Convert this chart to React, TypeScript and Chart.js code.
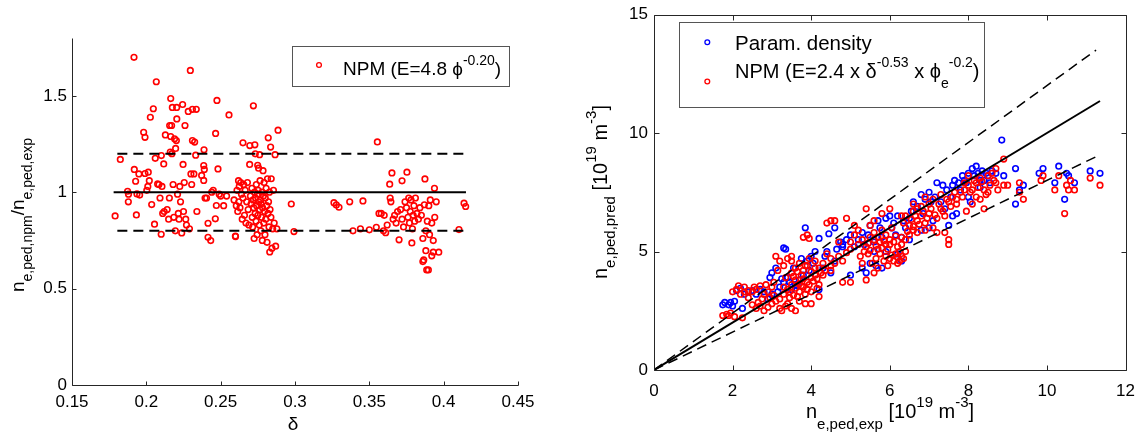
import React, { useEffect, useRef } from 'react';
import { Chart, registerables } from 'chart.js';

Chart.register(...registerables);

const FONT = '"Liberation Sans", Arial, Helvetica, sans-serif';

// ---------------- Left panel data: ratio n_npm / n_exp vs delta ----------------
const leftXTicks = [0.15, 0.2, 0.25, 0.3, 0.35, 0.4, 0.45];
const leftYTicks = [0, 0.5, 1, 1.5];
const leftXRange = [0.15, 0.45];
const leftYRange = [0, 1.8];
const leftFitLevel = 1;
const leftBandLevels = [1.2, 0.8];
const leftSolidSpan = [0.178, 0.415];
const leftDashSpan = [0.1805, 0.415];

const leftPoints: [number, number][] = [
  [0.179, 0.877], [0.1825, 1.17], [0.1874, 1.005], [0.1879, 0.95], [0.188, 0.99], [0.1917, 1.70],
  [0.1919, 1.118], [0.1928, 1.057], [0.1933, 0.882], [0.195, 1.095], [0.1937, 0.991], [0.1955, 0.985],
  [0.1982, 1.311], [0.1991, 1.285], [0.1991, 1.097], [0.2013, 1.104], [0.2003, 1.01], [0.201, 1.03],
  [0.202, 1.06], [0.2027, 1.389], [0.2036, 0.936], [0.2047, 1.433], [0.2055, 0.834], [0.206, 1.176],
  [0.2067, 1.573], [0.2076, 1.043], [0.2085, 1.04], [0.2092, 0.97], [0.21, 0.782], [0.2101, 1.19],
  [0.2105, 1.03], [0.211, 0.89], [0.2117, 1.147], [0.212, 0.9], [0.2128, 1.297], [0.214, 0.91],
  [0.215, 0.86], [0.2155, 0.97], [0.2157, 1.346], [0.2161, 1.208], [0.2164, 1.486], [0.2164, 1.289],
  [0.217, 1.346], [0.2172, 1.2], [0.2175, 1.44], [0.218, 1.04], [0.2185, 0.87], [0.219, 1.277],
  [0.2195, 0.8], [0.2197, 1.227], [0.2202, 1.268], [0.2204, 1.44], [0.2205, 1.38], [0.221, 0.99],
  [0.2215, 0.89], [0.222, 0.86], [0.2225, 1.03], [0.223, 0.95], [0.2238, 0.789], [0.2244, 1.455],
  [0.2247, 1.144], [0.225, 0.9], [0.2255, 1.05], [0.226, 1.346], [0.2265, 0.86], [0.227, 0.83],
  [0.2282, 1.419], [0.229, 0.81], [0.2296, 1.632], [0.23, 1.095], [0.2305, 1.04], [0.231, 1.43],
  [0.231, 1.268], [0.232, 1.095], [0.2325, 1.26], [0.2332, 1.192], [0.2336, 1.43], [0.234, 0.9],
  [0.2372, 1.087], [0.2386, 1.138], [0.2386, 1.061], [0.2388, 1.22], [0.239, 1.118], [0.2395, 0.97],
  [0.2405, 0.97], [0.2415, 0.839], [0.2415, 0.766], [0.2433, 0.749], [0.244, 1.0], [0.245, 1.01],
  [0.2464, 0.862], [0.2466, 1.305], [0.2471, 0.931], [0.2475, 1.476], [0.2482, 1.121], [0.249, 0.99],
  [0.25, 0.98], [0.252, 0.93], [0.254, 0.98], [0.2556, 1.401],
  [0.259, 0.96], [0.2599, 0.773], [0.26, 0.77], [0.2605, 0.93], [0.261, 1.01], [0.2615, 0.9],
  [0.262, 1.06], [0.2622, 0.95], [0.2625, 1.03], [0.263, 0.92], [0.2635, 1.05], [0.264, 0.99],
  [0.2645, 0.86], [0.265, 1.256], [0.265, 0.97], [0.2655, 1.04], [0.266, 0.88], [0.2665, 1.01],
  [0.267, 0.84], [0.2675, 0.95], [0.268, 1.05], [0.2685, 0.91], [0.269, 0.83], [0.2695, 1.144],
  [0.2696, 1.242], [0.27, 0.98], [0.2705, 0.94], [0.271, 1.02], [0.2712, 0.87], [0.2715, 0.82],
  [0.2718, 0.96], [0.272, 1.448], [0.2722, 0.92], [0.2725, 0.76], [0.2728, 1.0], [0.273, 1.246],
  [0.2732, 0.89], [0.2733, 1.199], [0.2735, 0.97], [0.2738, 0.85], [0.274, 1.04], [0.2742, 0.93],
  [0.2745, 0.78], [0.2748, 0.99], [0.2749, 1.14], [0.275, 0.88], [0.2752, 1.01], [0.2755, 1.125],
  [0.2757, 0.95], [0.276, 0.83], [0.2762, 1.195], [0.2763, 0.91], [0.2765, 1.06], [0.2768, 0.96],
  [0.277, 0.8], [0.2772, 0.94], [0.2775, 0.87], [0.2778, 1.0], [0.278, 0.75], [0.2782, 0.92],
  [0.2785, 1.112], [0.2787, 0.98], [0.279, 0.84], [0.2792, 1.05], [0.2795, 0.9], [0.2798, 0.78],
  [0.28, 0.97], [0.2803, 0.86], [0.2806, 1.02], [0.281, 0.93], [0.2812, 0.74], [0.2815, 1.07],
  [0.2818, 0.89], [0.282, 1.282], [0.2822, 0.95], [0.2825, 0.82], [0.2828, 1.0], [0.283, 0.69],
  [0.2832, 0.91], [0.2836, 1.234], [0.2838, 0.87], [0.284, 1.07], [0.2845, 0.71], [0.285, 0.81],
  [0.2855, 1.01], [0.286, 0.84], [0.2866, 1.195], [0.287, 0.72], [0.2878, 0.81], [0.2886, 1.322],
  [0.2975, 0.939], [0.2993, 0.796],
  [0.3262, 0.946], [0.3278, 0.934], [0.3296, 0.922], [0.3368, 0.95], [0.339, 0.8], [0.3457, 0.955],
  [0.344, 0.81], [0.35, 0.805], [0.3554, 1.261], [0.3547, 0.818],
  [0.3565, 0.89], [0.358, 0.89], [0.36, 0.88], [0.3595, 0.8], [0.361, 0.79], [0.362, 0.83],
  [0.3637, 1.042], [0.364, 0.97], [0.3645, 0.95], [0.3652, 1.1], [0.366, 0.86], [0.367, 0.88],
  [0.368, 0.84], [0.369, 0.9], [0.37, 0.753], [0.371, 0.91], [0.372, 1.059], [0.372, 0.86],
  [0.373, 0.82], [0.374, 0.95], [0.3753, 1.104], [0.375, 0.92], [0.376, 0.87], [0.3765, 0.97],
  [0.377, 0.84], [0.3775, 0.9], [0.378, 0.96], [0.3786, 0.737], [0.379, 0.81], [0.3795, 0.88],
  [0.38, 0.93], [0.3805, 0.85], [0.381, 0.97], [0.382, 0.89], [0.383, 0.86], [0.384, 0.92],
  [0.385, 0.88], [0.386, 0.76], [0.3866, 0.649], [0.386, 0.64], [0.387, 0.935], [0.3874, 1.069],
  [0.388, 0.697], [0.388, 0.8], [0.3886, 0.597], [0.3897, 0.597], [0.389, 0.85], [0.39, 0.93],
  [0.391, 0.96], [0.392, 0.67], [0.393, 0.749], [0.393, 0.689], [0.3938, 1.02], [0.394, 0.87],
  [0.3967, 0.689], [0.395, 0.95], [0.3905, 0.78], [0.392, 0.84],
  [0.4103, 0.806], [0.4137, 0.943], [0.4148, 0.926],
];

// ---------------- Right panel data: predicted vs experimental density ----------------
const rightXTicks = [0, 2, 4, 6, 8, 10, 12];
const rightYTicks = [0, 5, 10, 15];
const rightXRange = [0, 12];
const rightYRange = [0, 15];
const refSlopes = [1, 1.2, 0.8];
const refEnds = [11.35, 11.25, 11.25];

const paramDensity: [number, number][] = [
  [1.75, 2.75], [1.8, 2.85], [1.9, 2.75], [1.95, 2.85], [2.0, 2.7], [2.05, 2.9], [2.25, 2.6],
  [2.1, 3.35], [2.2, 3.45], [2.4, 3.3], [2.6, 3.2], [2.7, 3.4], [2.9, 3.0], [3.0, 3.2], [2.95, 3.9],
  [3.0, 4.1], [3.3, 5.15], [3.35, 5.1], [3.1, 4.3], [3.2, 3.5], [3.3, 3.7],
  [3.5, 3.4], [3.6, 3.6], [3.7, 3.8], [3.8, 4.0], [3.9, 4.6], [3.85, 6.0], [4.0, 4.8], [4.1, 5.0],
  [4.2, 5.55], [4.2, 3.4], [4.3, 4.3], [4.4, 5.0], [4.45, 5.75], [4.6, 6.0], [4.5, 4.1], [4.6, 4.6],
  [4.8, 5.3], [4.8, 5.2], [4.9, 5.5], [5.0, 5.7], [5.0, 4.0], [5.3, 4.3], [5.4, 4.1], [5.5, 4.5],
  [5.6, 5.0], [5.2, 5.5], [5.3, 5.8], [5.5, 6.1], [5.7, 6.3], [5.9, 6.4], [6.0, 6.5], [6.1, 6.2],
  [6.2, 6.5], [5.8, 5.6], [5.9, 5.0], [6.3, 5.6], [6.4, 6.0], [6.5, 6.4], [6.6, 7.1], [6.8, 7.4],
  [6.9, 7.2], [7.0, 7.5], [7.2, 7.9], [7.35, 7.8], [7.4, 6.8], [7.5, 6.1], [7.6, 6.5], [7.7, 6.6],
  [7.0, 6.0], [6.8, 5.9], [7.1, 6.3], [7.6, 7.8], [7.75, 7.9], [7.9, 8.0], [8.0, 8.3], [8.1, 8.5],
  [8.2, 8.6], [8.25, 8.3], [8.35, 8.4], [8.5, 8.2], [8.0, 7.3], [8.05, 7.1], [8.4, 8.0], [8.6, 8.4],
  [8.85, 9.7], [8.7, 8.3], [8.9, 8.2], [9.2, 8.5], [9.2, 7.0], [9.3, 7.6], [9.4, 7.8], [9.8, 8.3],
  [9.9, 8.5], [10.2, 7.9], [10.3, 8.6], [10.45, 7.2], [10.5, 8.3], [10.55, 8.2], [10.7, 7.9],
  [11.1, 8.4], [11.35, 8.3], [7.8, 7.6], [8.3, 7.7],
  [3.4, 3.9], [3.55, 4.3], [3.65, 3.55], [3.75, 4.7], [3.95, 4.2], [4.05, 4.5], [4.35, 4.8],
  [4.65, 5.1], [4.75, 5.4], [5.1, 5.2], [5.35, 5.3], [5.45, 5.7], [5.6, 5.4], [5.75, 6.0],
  [6.05, 6.0], [6.15, 5.7], [6.35, 6.3], [6.55, 6.7], [6.7, 6.9], [6.85, 6.6], [7.05, 7.1],
  [7.15, 7.3], [7.3, 7.1], [7.45, 7.6], [7.55, 7.3], [7.65, 8.0], [7.85, 8.2], [7.95, 7.9],
  [8.15, 8.2], [8.3, 8.0], [8.45, 8.3], [8.55, 7.9], [2.3, 3.2], [2.5, 3.35], [2.8, 3.3],
  [3.15, 3.3], [3.25, 3.85], [3.45, 3.7], [5.65, 4.4], [5.8, 4.3], [6.2, 4.9], [6.5, 5.5], [6.3, 4.6],
];

const npmDensity: [number, number][] = [
  [1.75, 2.3], [1.85, 2.35], [1.9, 2.3], [1.95, 2.4], [2.05, 2.25], [2.25, 2.2],
  [2.0, 3.3], [2.1, 3.4], [2.2, 3.2], [2.3, 3.3], [2.4, 3.35], [2.5, 3.3], [2.55, 3.5], [2.6, 3.4],
  [2.7, 3.55], [2.8, 3.2], [2.85, 3.6], [2.9, 3.3], [3.0, 3.5], [3.05, 3.7],
  [2.6, 2.6], [2.7, 2.7], [2.8, 2.5], [2.9, 2.65], [3.0, 2.8], [3.1, 2.9], [3.2, 2.6], [3.25, 2.5],
  [3.35, 2.7], [3.4, 2.8], [3.5, 2.6], [3.6, 2.5], [3.7, 2.9], [3.85, 2.8], [4.0, 2.8], [4.2, 3.1],
  [3.1, 4.8], [3.2, 4.6], [3.3, 4.4], [3.15, 4.2], [3.4, 4.7], [3.5, 4.6], [3.5, 4.8], [3.6, 4.3],
  [3.7, 4.5], [3.8, 4.2], [3.9, 4.4], [3.95, 4.7], [4.1, 4.6], [4.2, 4.3], [4.3, 4.5], [4.4, 4.9],
  [4.5, 4.7], [3.8, 5.6], [3.9, 5.7], [3.95, 5.55], [4.4, 6.2], [4.5, 6.3], [4.6, 6.3], [4.9, 6.4],
  [4.7, 5.4], [4.5, 4.2],
  [3.3, 3.2], [3.4, 3.4], [3.5, 3.6], [3.6, 3.8], [3.7, 3.3], [3.8, 3.5], [3.9, 3.7], [4.0, 3.9],
  [4.1, 4.0], [4.2, 3.6], [3.55, 3.95], [3.75, 4.0], [3.85, 3.2], [4.0, 3.3], [4.15, 3.45],
  [3.45, 3.05], [3.65, 3.1],
  [4.3, 4.0], [4.5, 4.4], [4.6, 4.5], [4.7, 4.8], [4.8, 4.6], [4.9, 4.95], [5.0, 5.1], [4.8, 3.7],
  [5.0, 3.7], [5.4, 3.8], [5.6, 4.1], [5.7, 4.3],
  [5.3, 5.5], [5.4, 5.2], [5.5, 5.6], [5.45, 4.9], [5.6, 5.8], [5.7, 5.1], [5.75, 5.4], [5.8, 5.9],
  [5.85, 4.6], [5.9, 4.8], [5.9, 5.3], [6.0, 4.7], [6.0, 5.5], [6.05, 6.0], [6.1, 4.6], [6.15, 4.9],
  [6.2, 5.2], [6.25, 4.6], [6.3, 4.8], [6.3, 5.6], [6.35, 6.2], [6.4, 5.0], [5.5, 6.1], [5.6, 6.3],
  [5.4, 6.8], [5.8, 6.6], [6.0, 6.8], [5.2, 5.9], [5.1, 6.1], [5.55, 4.5], [5.65, 4.7], [5.95, 4.4],
  [6.2, 4.5], [6.3, 6.5], [6.5, 6.1], [6.6, 5.9], [6.7, 6.3], [6.6, 6.7], [6.8, 6.5], [6.9, 6.2],
  [6.8, 6.9], [7.0, 6.6], [7.1, 6.0], [7.2, 6.4], [7.3, 6.8], [7.4, 6.5], [7.5, 5.5], [7.5, 5.3],
  [7.4, 5.8], [7.2, 5.8], [7.0, 7.0], [7.1, 7.2], [7.3, 7.4], [7.5, 7.1], [7.6, 7.3], [7.7, 7.0],
  [7.8, 7.5], [6.4, 6.5], [6.6, 7.0], [6.7, 6.8], [6.9, 7.3], [6.5, 5.7], [6.7, 5.8], [6.9, 5.9],
  [7.9, 7.6], [8.0, 7.8], [8.0, 8.2], [8.1, 7.6], [8.2, 7.9], [8.3, 8.1], [8.4, 7.6], [8.5, 7.5],
  [8.5, 8.2], [8.3, 7.2], [8.1, 7.0], [7.95, 6.7], [8.6, 8.3], [8.9, 8.9], [8.7, 8.5], [8.9, 7.8],
  [9.0, 7.8], [9.3, 7.5], [9.4, 7.2], [9.3, 7.9], [9.9, 8.2], [9.85, 8.0], [10.2, 7.6], [10.3, 8.2],
  [10.45, 6.6], [10.5, 7.8], [10.55, 7.6], [10.6, 8.0], [10.7, 7.6], [11.1, 8.1], [11.35, 7.8],
  [8.4, 6.8], [8.7, 7.9], [8.2, 7.3],
  [3.2, 3.0], [3.3, 3.5], [3.45, 3.3], [3.55, 3.15], [3.6, 3.45], [3.7, 3.65], [3.75, 3.55],
  [3.8, 3.85], [3.9, 3.4], [3.95, 3.6], [4.05, 3.75], [4.1, 4.3], [4.15, 3.85], [4.25, 4.1],
  [4.35, 4.2], [3.35, 3.9], [3.5, 4.1], [3.65, 4.15], [3.85, 4.4], [4.0, 4.15], [2.95, 3.05],
  [3.05, 3.15], [2.75, 3.0], [2.65, 2.85], [2.5, 2.75], [2.4, 3.05], [2.3, 3.5], [2.15, 3.55],
  [5.35, 5.0], [5.45, 5.35], [5.5, 5.05], [5.6, 5.5], [5.65, 5.25], [5.7, 5.6], [5.75, 4.9],
  [5.8, 5.15], [5.85, 5.45], [5.9, 5.7], [5.95, 5.1], [6.0, 5.3], [6.05, 4.85], [6.1, 5.4],
  [6.15, 5.65], [6.2, 4.75], [6.25, 5.0], [6.3, 5.3], [6.35, 4.7], [6.4, 5.5], [5.2, 5.3],
  [5.25, 4.8], [5.3, 4.5], [5.0, 5.4], [5.1, 5.7], [6.45, 5.85], [6.55, 6.35], [6.6, 6.05],
  [6.65, 6.5], [6.75, 6.15], [6.85, 6.7], [6.95, 6.4], [7.05, 6.8], [7.15, 6.55], [7.25, 7.0],
  [7.35, 6.7], [7.45, 7.2], [7.55, 6.9], [7.65, 7.5], [7.7, 7.2], [7.85, 7.3], [7.9, 7.9],
  [8.05, 7.5], [8.15, 8.0], [8.25, 7.7], [8.35, 7.95], [8.45, 7.4], [8.55, 7.8], [8.65, 8.0],
  [8.75, 7.6],
];

// ---------------- helpers ----------------
type Seg = { t: string; k?: 'sub' | 'sup' };

function drawRich(
  ctx: CanvasRenderingContext2D,
  segs: Seg[],
  x: number,
  y: number,
  opts: { align?: 'left' | 'center'; rotate?: boolean; main?: number; small?: number; supOff?: number; subOff?: number; color?: string }
) {
  const main = opts.main ?? 19;
  const small = opts.small ?? 14;
  const supOff = opts.supOff ?? -10;
  const subOff = opts.subOff ?? 8;
  const widths = segs.map((s) => {
    ctx.font = `${s.k ? small : main}px ${FONT}`;
    return ctx.measureText(s.t).width;
  });
  const total = widths.reduce((a, b) => a + b, 0);
  ctx.save();
  ctx.translate(x, y);
  if (opts.rotate) ctx.rotate(-Math.PI / 2);
  ctx.fillStyle = opts.color ?? '#000';
  ctx.textBaseline = 'alphabetic';
  ctx.textAlign = 'left';
  let cx = opts.align === 'center' ? -total / 2 : 0;
  segs.forEach((s, i) => {
    ctx.font = `${s.k ? small : main}px ${FONT}`;
    const dy = s.k === 'sup' ? supOff : s.k === 'sub' ? subOff : 0;
    ctx.fillText(s.t, cx, dy);
    cx += widths[i];
  });
  ctx.restore();
}

function drawMarker(ctx: CanvasRenderingContext2D, x: number, y: number, color: string) {
  ctx.save();
  ctx.strokeStyle = color;
  ctx.lineWidth = 1.3;
  ctx.beginPath();
  ctx.arc(x, y, 2.4, 0, Math.PI * 2);
  ctx.stroke();
  ctx.restore();
}

function axesPlugin(box: boolean, xt: number[], yt: number[], tickLen: number) {
  return {
    id: 'customAxes',
    afterDatasetsDraw(chart: any) {
      const { ctx, chartArea: a, scales } = chart;
      const L = Math.round(a.left) + 0.5;
      const R = Math.round(a.right) + 0.5;
      const T = Math.round(a.top) + 0.5;
      const B = Math.round(a.bottom) + 0.5;
      ctx.save();
      ctx.strokeStyle = '#262626';
      ctx.lineWidth = 1;
      ctx.beginPath();
      ctx.moveTo(L, T);
      ctx.lineTo(L, B);
      ctx.lineTo(R, B);
      if (box) {
        ctx.lineTo(R, T);
        ctx.lineTo(L, T);
      }
      xt.forEach((v) => {
        const px = Math.round(scales.x.getPixelForValue(v)) + 0.5;
        ctx.moveTo(px, B);
        ctx.lineTo(px, B - tickLen);
        if (box) {
          ctx.moveTo(px, T);
          ctx.lineTo(px, T + tickLen);
        }
      });
      yt.forEach((v) => {
        const py = Math.round(scales.y.getPixelForValue(v)) + 0.5;
        ctx.moveTo(L, py);
        ctx.lineTo(L + tickLen, py);
        if (box) {
          ctx.moveTo(R, py);
          ctx.lineTo(R - tickLen, py);
        }
      });
      ctx.stroke();
      ctx.restore();
    },
  };
}

function axisOpts(range: number[], ticks: number[], fitSize: number, horizontal: boolean, pad: number) {
  return {
    type: 'linear',
    min: range[0],
    max: range[1],
    afterBuildTicks: (s: any) => {
      s.ticks = ticks.map((v) => ({ value: v }));
    },
    afterFit: (s: any) => {
      if (horizontal) s.height = fitSize;
      else s.width = fitSize;
    },
    grid: { display: false, drawTicks: false },
    border: { display: false },
    ticks: {
      padding: pad,
      color: '#000',
      font: { family: FONT, size: 17, lineHeight: 1 },
      maxRotation: 0,
      autoSkip: false,
      callback: (v: any) => String(v),
    },
  };
}

const scatterStyle = (color: string) => ({
  pointStyle: 'circle',
  pointRadius: 2.8,
  pointHoverRadius: 2.8,
  borderWidth: 1.6,
  borderColor: color,
  backgroundColor: 'rgba(0,0,0,0)',
  showLine: false,
});

const lineStyle = (dash: number[], width: number) => ({
  type: 'line' as const,
  borderColor: '#000',
  borderWidth: width,
  borderDash: dash,
  pointRadius: 0,
  fill: false,
  tension: 0,
});

function LeftChart() {
  const ref = useRef<HTMLCanvasElement | null>(null);
  useEffect(() => {
    if (!ref.current) return;
    const textPlugin = {
      id: 'leftText',
      afterDraw(chart: any) {
        const ctx = chart.ctx as CanvasRenderingContext2D;
        drawRich(
          ctx,
          [{ t: 'n' }, { t: 'e,ped,npm', k: 'sub' }, { t: '/n' }, { t: 'e,ped,exp', k: 'sub' }],
          24, 215, { align: 'center', rotate: true, main: 19, small: 14, subOff: 8 }
        );
        drawRich(ctx, [{ t: 'δ' }], 293, 430, { align: 'center', main: 19 });
        ctx.save();
        ctx.strokeStyle = '#555';
        ctx.lineWidth = 1;
        ctx.fillStyle = '#fff';
        ctx.fillRect(292.5, 46.5, 217, 40);
        ctx.strokeRect(292.5, 46.5, 217, 40);
        ctx.restore();
        drawMarker(ctx, 319, 65, '#ff0000');
        drawRich(
          ctx,
          [{ t: 'NPM (E=4.8 ϕ' }, { t: '-0.20', k: 'sup' }, { t: ')' }],
          343, 75, { align: 'left', main: 19, small: 14, supOff: -10 }
        );
      },
    };
    const chart = new Chart(ref.current, {
      type: 'scatter',
      data: {
        datasets: [
          {
            ...lineStyle([], 2),
            data: leftSolidSpan.map((x) => ({ x, y: leftFitLevel })),
          },
          ...leftBandLevels.map((lvl) => ({
            ...lineStyle([10, 6], 2),
            data: leftDashSpan.map((x) => ({ x, y: lvl })),
          })),
          {
            ...scatterStyle('#ff0000'),
            data: leftPoints.map(([x, y]) => ({ x, y })),
          },
        ],
      } as any,
      options: {
        responsive: false,
        animation: false,
        events: [],
        layout: { padding: { left: 0, right: 42, top: 38, bottom: 0 } },
        plugins: { legend: { display: false }, tooltip: { enabled: false } },
        scales: {
          x: axisOpts(leftXRange, leftXTicks, 56, true, 9),
          y: axisOpts(leftYRange, leftYTicks, 72, false, 5),
        },
      } as any,
      plugins: [axesPlugin(false, leftXTicks, leftYTicks, 4), textPlugin],
    });
    return () => chart.destroy();
  }, []);
  return <canvas ref={ref} width={560} height={441} style={{ display: 'block' }} />;
}

function RightChart() {
  const ref = useRef<HTMLCanvasElement | null>(null);
  useEffect(() => {
    if (!ref.current) return;
    const textPlugin = {
      id: 'rightText',
      afterDraw(chart: any) {
        const ctx = chart.ctx as CanvasRenderingContext2D;
        drawRich(
          ctx,
          [{ t: 'n' }, { t: 'e,ped,pred', k: 'sub' }, { t: ' [10' }, { t: '19', k: 'sup' }, { t: ' m' }, { t: '-3', k: 'sup' }, { t: ']' }],
          47, 192, { align: 'center', rotate: true, main: 20, small: 15, subOff: 8, supOff: -11 }
        );
        drawRich(
          ctx,
          [{ t: 'n' }, { t: 'e,ped,exp', k: 'sub' }, { t: ' [10' }, { t: '19', k: 'sup' }, { t: ' m' }, { t: '-3', k: 'sup' }, { t: ']' }],
          330, 418, { align: 'center', main: 20, small: 15, subOff: 11, supOff: -11 }
        );
        ctx.save();
        ctx.strokeStyle = '#555';
        ctx.lineWidth = 1;
        ctx.fillStyle = '#fff';
        ctx.fillRect(119.5, 22.5, 305, 85);
        ctx.strokeRect(119.5, 22.5, 305, 85);
        ctx.restore();
        drawMarker(ctx, 147.3, 42.3, '#0000ff');
        drawMarker(ctx, 147.3, 81.5, '#ff0000');
        drawRich(ctx, [{ t: 'Param. density' }], 175, 50, { align: 'left', main: 20.5 });
        drawRich(
          ctx,
          [{ t: 'NPM (E=2.4 x δ' }, { t: '-0.53', k: 'sup' }, { t: ' x ϕ' }, { t: 'e', k: 'sub' }, { t: '-0.2', k: 'sup' }, { t: ')' }],
          175, 77.5, { align: 'left', main: 20, small: 14, supOff: -11, subOff: 10 }
        );
      },
    };
    const chart = new Chart(ref.current, {
      type: 'scatter',
      data: {
        datasets: [
          {
            ...lineStyle([], 2),
            data: [0, refEnds[0]].map((x) => ({ x, y: refSlopes[0] * x })),
          },
          {
            ...lineStyle([10, 6], 1.5),
            data: [0, refEnds[1]].map((x) => ({ x, y: refSlopes[1] * x })),
          },
          {
            ...lineStyle([10, 6], 1.5),
            data: [0, refEnds[2]].map((x) => ({ x, y: refSlopes[2] * x })),
          },
          {
            ...scatterStyle('#ff0000'),
            data: npmDensity.map(([x, y]) => ({ x, y })),
          },
          {
            ...scatterStyle('#0000ff'),
            data: paramDensity.map(([x, y]) => ({ x, y })),
          },
        ],
      } as any,
      options: {
        responsive: false,
        animation: false,
        events: [],
        layout: { padding: { left: 0, right: 17, top: 9, bottom: 0 } },
        plugins: { legend: { display: false }, tooltip: { enabled: false } },
        scales: {
          x: axisOpts(rightXRange, rightXTicks, 71, true, 13),
          y: axisOpts(rightYRange, rightYTicks, 94, false, 6),
        },
      } as any,
      plugins: [axesPlugin(true, rightXTicks, rightYTicks, 5), textPlugin],
    });
    return () => chart.destroy();
  }, []);
  return <canvas ref={ref} width={588} height={441} style={{ display: 'block' }} />;
}

export default function App() {
  return (
    <div style={{ position: 'absolute', left: 0, top: 0, width: 1148, height: 441, background: '#fff' }}>
      <div style={{ position: 'absolute', left: 0, top: 0 }}>
        <LeftChart />
      </div>
      <div style={{ position: 'absolute', left: 560, top: 0 }}>
        <RightChart />
      </div>
    </div>
  );
}
